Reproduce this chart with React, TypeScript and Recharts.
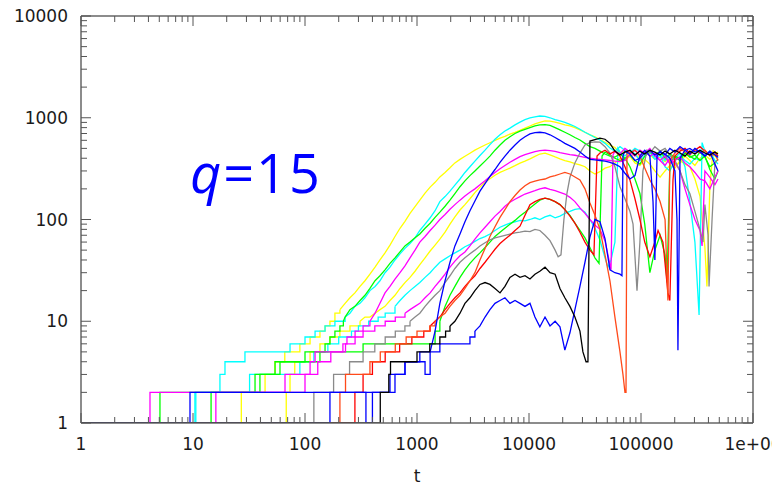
import React from "react";
import { LineChart, Line, XAxis, YAxis } from "recharts";

type Pt = [number, number];

// axis ticks
const X_MAJOR = [1, 10, 100, 1000, 10000, 100000, 1000000];
const X_LABELS = ["1", "10", "100", "1000", "10000", "100000", "1e+06"];
const Y_MAJOR = [1, 10, 100, 1000, 10000];
const Y_LABELS = ["1", "10", "100", "1000", "10000"];
const MINOR_STEPS = [2, 3, 4, 5, 6, 7, 8, 9];

// [t, value]; "Steps" = low integer part, "Curve" = the rest
const cyan1Steps: Pt[] = [[1,1],[10.4,2],[17.4,3],[19.3,4],[29.1,5],[73.5,6],[100,7],[123,8],[151,9],[185,10],[228,11]];
const cyan1Curve: Pt[] = [[228,11],[252,12],[279,14],[310,15],[343,17],[380,20],[422,22],[467,25],[518,30],[574,34],[636,40],[705,46],[781,52],[866,58],[960,66],[1060,78],[1180,90],[1310,104],[1450,122],[1600,150],[1780,168],[1970,190],[2180,218],[2420,250],[2680,290],[2970,330],[3290,375],[3650,425],[4050,480],[4480,545],[4970,615],[5510,680],[6100,740],[6760,790],[7500,850],[8310,905],[9210,960],[10200,995],[11300,1020],[12500,1040],[13900,1030],[15400,1000],[17100,960],[18900,930],[20900,900],[23200,860],[25700,820],[28500,770],[31600,720],[35000,680],[38800,640],[43000,605],[47700,560],[52800,505],[58500,470],[64900,520],[71900,480],[79700,450],[88300,500],[97800,470],[108000,430],[120000,460],[133000,410],[148000,440],[164000,380],[181000,420],[201000,400],[223000,450],[247000,330],[273000,150],[303000,60],[330000,11.5],[351000,570],[372000,470],[412000,430],[457000,450],[487000,400]];

const yellow1Steps: Pt[] = [[1,1],[27,2],[44,3],[54,4],[66,5],[90,6],[111,7],[136,8],[151,9],[167,10],[185,12],[205,13]];
const yellow1Curve: Pt[] = [[205,13],[228,15],[252,17],[279,19],[310,22],[343,25],[380,29],[422,34],[467,40],[518,47],[574,56],[636,68],[705,82],[781,96],[866,115],[960,134],[1060,155],[1180,182],[1310,208],[1450,232],[1600,262],[1780,290],[1970,322],[2180,360],[2420,390],[2680,418],[2970,448],[3290,480],[3650,510],[4050,540],[4480,568],[4970,600],[5510,630],[6100,655],[6760,690],[7500,718],[8310,750],[9210,790],[10200,830],[11300,870],[12500,900],[13900,930],[15400,925],[17100,905],[18900,880],[20900,850],[23200,830],[25700,800],[28500,760],[31600,720],[35000,680],[38800,650],[43000,610],[47700,575],[52800,540],[58500,510],[64900,450],[71900,470],[79700,420],[88300,440],[97800,400],[108000,460],[120000,430],[133000,390],[148000,410],[164000,370],[181000,400],[201000,340],[223000,360],[247000,420],[273000,380],[303000,340],[336000,400],[372000,430],[412000,390],[457000,440],[487000,460]];

const green1Steps: Pt[] = [[1,1],[5.07,2],[39.6,3],[54,4],[136,5],[151,6],[167,7],[185,8],[205,9],[220,10]];
const green1Curve: Pt[] = [[220,10],[228,11],[252,13],[279,14],[310,16],[343,18],[380,21],[422,25],[467,28],[518,32],[574,37],[636,42],[705,48],[781,55],[866,60],[960,66],[1060,72],[1180,82],[1310,92],[1450,105],[1600,118],[1780,135],[1970,155],[2180,180],[2420,210],[2680,240],[2970,270],[3290,300],[3650,335],[4050,375],[4480,420],[4970,480],[5510,540],[6100,600],[6760,650],[7500,700],[8310,740],[9210,770],[10200,800],[11300,830],[12500,850],[13900,855],[15400,840],[17100,800],[18900,760],[20900,720],[23200,680],[25700,640],[28500,605],[31600,560],[35000,520],[38800,500],[43000,470],[47700,440],[52800,420],[58500,410],[64900,440],[71900,400],[79700,430],[88300,380],[97800,350],[108000,420],[120000,460],[133000,430],[148000,470],[164000,400],[181000,440],[201000,410],[223000,380],[247000,450],[273000,420],[303000,390],[336000,460],[372000,410],[412000,330],[457000,360],[487000,390]];

const blue1Steps: Pt[] = [[1,1],[9.4,2],[574,3],[781,4],[1180,3],[1310,5]];
const blue1Curve: Pt[] = [[1310,5],[1450,8],[1600,15],[1780,25],[1970,38],[2180,55],[2420,72],[2680,95],[2970,122],[3290,152],[3650,190],[4050,225],[4480,265],[4970,310],[5510,365],[6100,420],[6760,480],[7500,540],[8310,600],[9210,650],[10200,695],[11300,715],[12500,720],[13900,710],[15400,680],[17100,640],[18900,600],[20900,560],[23200,530],[25700,500],[28500,460],[31600,420],[35000,390],[38800,385],[43000,380],[47700,375],[52800,365],[58500,350],[64900,330],[71900,285],[79700,250],[88300,270],[97800,420],[108000,480],[120000,420],[128000,150],[133000,40],[139000,420],[148000,470],[164000,430],[181000,500],[201000,460],[223000,520],[247000,480],[273000,440],[303000,500],[336000,460],[372000,420],[412000,470],[457000,430],[487000,410]];

const magenta1Steps: Pt[] = [[1,1],[4.13,2],[66.3,3],[111,4],[123,5],[218,6],[237,7],[280,8],[330,9],[380,10]];
const magenta1Curve: Pt[] = [[380,10],[422,12],[467,15],[518,19],[574,22],[636,26],[705,30],[781,35],[866,42],[960,50],[1060,60],[1180,68],[1310,78],[1450,88],[1600,100],[1780,112],[1970,126],[2180,140],[2420,155],[2680,170],[2970,185],[3290,200],[3650,220],[4050,240],[4480,265],[4970,290],[5510,315],[6100,340],[6760,365],[7500,390],[8310,415],[9210,435],[10200,450],[11300,465],[12500,475],[13900,480],[15400,475],[17100,468],[18900,455],[20900,445],[23200,435],[25700,428],[28500,418],[31600,408],[35000,400],[38800,395],[43000,390],[47700,385],[52800,380],[58500,375],[64900,370],[71900,380],[79700,440],[88300,480],[97800,430],[108000,470],[120000,420],[133000,450],[148000,380],[164000,340],[181000,400],[201000,360],[223000,300],[247000,200],[273000,140],[303000,100],[336000,78],[351000,55],[372000,300],[412000,260],[457000,220],[487000,250]];

const yellow2Steps: Pt[] = [[1,1],[68,2],[73.5,3],[81,4],[111,5],[136,6],[167,7],[205,8],[252,9],[310,10]];
const yellow2Curve: Pt[] = [[310,10],[343,11],[380,11],[422,12],[467,13],[518,14],[574,16],[636,18],[705,21],[781,24],[866,27],[960,31],[1060,36],[1180,42],[1310,49],[1450,56],[1600,64],[1780,75],[1970,90],[2180,106],[2420,124],[2680,140],[2970,160],[3290,184],[3650,208],[4050,232],[4480,252],[4970,272],[5510,290],[6100,305],[6760,320],[7500,338],[8310,358],[9210,375],[10200,395],[11300,418],[12500,440],[13900,448],[15400,432],[17100,412],[18900,395],[20900,380],[23200,368],[25700,355],[28500,345],[31600,330],[35000,300],[38800,280],[43000,295],[47700,320],[52800,330],[58500,360],[64900,400],[71900,380],[79700,420],[88300,360],[97800,340],[108000,390],[120000,350],[133000,300],[148000,260],[164000,300],[181000,340],[201000,320],[223000,380],[247000,350],[273000,330],[303000,250],[336000,170],[372000,53],[388000,22],[412000,210],[440000,480],[457000,420],[487000,400]];

const red1Steps: Pt[] = [[1,1],[205,2],[230,3],[380,4],[470,5],[640,6],[800,7],[1000,8],[1300,9],[1450,10]];
const red1Curve: Pt[] = [[1450,10],[1600,11],[1780,12],[1970,14],[2180,16],[2420,18],[2680,21],[2970,25],[3290,30],[3650,40],[4050,52],[4480,68],[4970,85],[5510,105],[6100,125],[6760,150],[7500,172],[8310,195],[9210,215],[10200,230],[11300,238],[12500,245],[13900,250],[15400,262],[17100,270],[18900,280],[20900,290],[23200,280],[25700,262],[28500,245],[31600,200],[35000,145],[38800,110],[43000,80],[47700,45],[52800,25],[58500,11],[64900,5],[69000,3],[71900,2],[73500,2],[75000,470],[79700,450],[88300,480],[97800,420],[108000,320],[120000,244],[133000,200],[148000,150],[164000,100],[174000,16],[181000,380],[201000,450],[223000,500],[247000,460],[273000,430],[303000,490],[336000,450],[372000,480],[412000,420],[457000,440],[487000,380]];

const magenta2Steps: Pt[] = [[1,1],[16,2],[100,3],[130,4],[170,5],[230,6],[280,7],[330,8],[420,9],[520,10],[640,11],[781,12]];
const magenta2Curve: Pt[] = [[781,12],[866,13],[960,14],[1060,15],[1180,17],[1310,19],[1450,22],[1600,25],[1780,29],[1970,34],[2180,39],[2420,44],[2680,48],[2970,55],[3290,64],[3650,74],[4050,84],[4480,95],[4970,108],[5510,120],[6100,135],[6760,148],[7500,158],[8310,168],[9210,178],[10200,185],[11300,192],[12500,200],[13900,205],[15400,198],[17100,192],[18900,185],[20900,178],[23200,165],[25700,150],[28500,130],[31600,115],[35000,100],[38800,88],[43000,80],[47700,62],[50700,45],[54000,32],[56200,430],[58500,470],[64900,440],[71900,500],[79700,460],[88300,420],[97800,480],[108000,450],[120000,500],[133000,420],[148000,380],[164000,420],[181000,350],[201000,380],[223000,410],[247000,360],[273000,330],[303000,290],[336000,250],[372000,240],[412000,200],[457000,260],[487000,300]];

const green2Steps: Pt[] = [[1,1],[14.5,2],[35.8,3],[59.8,4],[100,5],[330,6],[1450,8],[1600,10]];
const green2Curve: Pt[] = [[1600,10],[1780,14],[1970,18],[2180,22],[2420,27],[2680,32],[2970,37],[3290,42],[3650,47],[4050,53],[4480,60],[4970,68],[5510,75],[6100,82],[6760,90],[7500,98],[8310,108],[9210,118],[10200,130],[11300,142],[12500,155],[13900,162],[15400,158],[17100,150],[18900,140],[20900,125],[23200,110],[25700,92],[28500,78],[31600,66],[35000,53],[38800,42],[42200,37],[44900,420],[47700,460],[52800,430],[58500,400],[64900,380],[71900,400],[79700,330],[88300,250],[97800,180],[108000,90],[120000,30],[133000,50],[148000,70],[164000,45],[171000,24],[181000,350],[201000,420],[223000,400],[247000,450],[273000,410],[303000,430],[336000,380],[372000,420],[412000,310],[457000,250],[487000,300]];

const red2Steps: Pt[] = [[1,1],[279,2],[330,3],[400,4],[520,5],[700,6],[900,7],[1150,8],[1310,9]];
const red2Curve: Pt[] = [[1310,9],[1450,10],[1600,11],[1780,13],[1970,15],[2180,17],[2420,19],[2680,22],[2970,25],[3290,28],[3650,33],[4050,38],[4480,44],[4970,51],[5510,58],[6100,64],[6760,70],[7500,78],[8310,86],[9210,110],[10200,140],[11300,150],[12500,158],[13900,162],[15400,158],[17100,150],[18900,140],[20900,125],[23200,108],[25700,92],[28500,75],[31600,60],[35000,50],[38000,45],[40500,420],[43000,450],[47700,480],[52800,440],[58500,470],[64900,420],[71900,330],[79700,244],[88300,160],[97800,100],[108000,60],[120000,43],[133000,60],[142000,78],[157000,60],[174000,19],[181000,16],[193000,244],[201000,420],[223000,470],[247000,500],[273000,450],[303000,480],[336000,520],[372000,470],[412000,430],[457000,460],[487000,420]];

const cyan2Steps: Pt[] = [[1,1],[10.6,2],[32,3],[90,4],[120,5],[160,6],[200,7],[260,8],[300,9],[370,10],[450,11],[520,12],[636,14]];
const cyan2Curve: Pt[] = [[636,14],[705,16],[781,18],[866,20],[960,22],[1060,24],[1180,27],[1310,30],[1450,34],[1600,38],[1780,41],[1970,44],[2180,47],[2420,50],[2680,54],[2970,57],[3290,61],[3650,65],[4050,68],[4480,72],[4970,78],[5510,84],[6100,88],[6760,92],[7500,95],[8310,98],[9210,97],[10200,100],[11300,104],[12500,100],[13900,106],[15400,110],[17100,104],[18900,108],[20900,115],[23200,120],[25700,126],[28500,128],[31600,118],[35000,100],[38800,82],[43000,63],[47700,42],[50700,34],[54000,40],[58500,60],[62300,500],[64900,460],[71900,420],[79700,480],[88300,440],[97800,380],[108000,420],[120000,460],[133000,390],[148000,430],[164000,330],[181000,300],[201000,380],[223000,420],[247000,380],[273000,350],[303000,400],[336000,380],[372000,440],[412000,470],[457000,380],[487000,350]];

const gray1Steps: Pt[] = [[1,1],[120,2],[180,3],[250,4],[330,5],[420,6],[520,7],[640,8],[780,9],[866,10]];
const gray1Curve: Pt[] = [[866,10],[960,11],[1060,12],[1180,14],[1310,16],[1450,18],[1600,20],[1780,24],[1970,28],[2180,33],[2420,38],[2680,42],[2970,46],[3290,50],[3650,55],[4050,59],[4480,63],[4970,66],[5510,68],[6100,70],[6760,72],[7500,74],[8310,75],[9210,77],[10200,76],[11300,80],[12500,78],[13900,70],[15400,62],[17100,50],[18200,43],[19300,45],[20500,100],[21800,180],[23200,260],[25700,360],[28500,450],[31600,540],[35000,570],[38800,580],[43000,575],[47700,520],[52800,450],[58500,330],[64900,210],[71900,160],[79700,120],[84900,90],[92100,20],[97800,60],[104000,300],[113000,480],[120000,450],[133000,520],[148000,470],[164000,500],[181000,430],[201000,380],[223000,300],[247000,220],[273000,180],[303000,120],[336000,80],[358000,60],[372000,140],[397000,70],[405000,22],[431000,100],[457000,360],[487000,390]];

const black1Steps: Pt[] = [[1,1],[470,2],[560,3],[580,4],[1000,5],[1300,6],[1600,7],[1800,8],[1970,9]];
const black1Curve: Pt[] = [[1970,9],[2180,10],[2420,12],[2680,15],[2970,17],[3290,20],[3650,23],[4050,24],[4480,23],[4970,21],[5510,19],[6100,22],[6760,27],[7500,29],[8310,27],[9210,28],[10200,26],[11300,29],[12500,31],[13900,34],[15400,30],[17100,29],[18900,21],[20900,17],[23200,14],[25700,11],[28500,8],[30300,5],[32300,4],[33600,4],[35000,590],[38800,610],[43000,630],[47700,615],[52800,560],[58500,470],[64900,430],[71900,460],[79700,480],[88300,430],[97800,470],[108000,440],[120000,480],[133000,460],[148000,430],[164000,470],[181000,440],[201000,480],[223000,450],[247000,420],[273000,470],[303000,440],[336000,480],[372000,450],[412000,430],[457000,460],[487000,440]];

const blue2Steps: Pt[] = [[1,1],[167,2],[350,1],[400,2],[636,3],[781,4],[1060,5],[1600,6],[2970,7],[3290,8]];
const blue2Curve: Pt[] = [[3290,8],[3650,9],[4050,11],[4480,13],[4970,15],[5510,16],[6100,17],[6760,15],[7500,16],[8310,15],[9210,14],[10200,15],[11300,11],[12500,8.8],[13900,11],[15400,9],[17100,10],[18900,8.8],[20900,5.2],[23200,7.7],[25700,13],[28500,22],[31600,38],[35000,67],[38800,100],[43000,95],[47700,65],[52800,32],[58500,30],[64900,29],[67600,28],[69000,420],[71900,470],[79700,440],[88300,380],[97800,400],[108000,450],[120000,480],[133000,430],[148000,460],[164000,440],[181000,400],[201000,300],[209600,100],[213700,5.2],[223000,400],[247000,480],[273000,500],[303000,460],[336000,480],[372000,420],[412000,460],[457000,350],[487000,300]];

const SERIES = [
  { id: "yellow1", color: "#ffff00", steps: yellow1Steps, curve: yellow1Curve },
  { id: "yellow2", color: "#ffff00", steps: yellow2Steps, curve: yellow2Curve },
  { id: "cyan1", color: "#00ffff", steps: cyan1Steps, curve: cyan1Curve },
  { id: "cyan2", color: "#00ffff", steps: cyan2Steps, curve: cyan2Curve },
  { id: "green1", color: "#00ff00", steps: green1Steps, curve: green1Curve },
  { id: "green2", color: "#00ff00", steps: green2Steps, curve: green2Curve },
  { id: "magenta1", color: "#ff00ff", steps: magenta1Steps, curve: magenta1Curve },
  { id: "magenta2", color: "#ff00ff", steps: magenta2Steps, curve: magenta2Curve },
  { id: "gray1", color: "#8a8a8a", steps: gray1Steps, curve: gray1Curve },
  { id: "red2", color: "#ff0000", steps: red2Steps, curve: red2Curve },
  { id: "red1", color: "#ff4a1a", steps: red1Steps, curve: red1Curve },
  { id: "blue1", color: "#0000ff", steps: blue1Steps, curve: blue1Curve },
  { id: "blue2", color: "#0000ff", steps: blue2Steps, curve: blue2Curve },
  { id: "black1", color: "#000000", steps: black1Steps, curve: black1Curve },
];

const withMinors = (majors: number[]) => [
  ...majors,
  ...majors.slice(0, -1).flatMap((m) => MINOR_STEPS.map((k) => m * k)),
];
const xTicks = withMinors(X_MAJOR);
const yTicks = withMinors(Y_MAJOR);

const toPts = (a: Pt[]) => a.map(([t, v]) => ({ t, v }));

const FONT = "'DejaVu Sans', Verdana, sans-serif";
const TICK = "#555";

const BottomTick = (props: any) => {
  const { x, y, payload } = props;
  const i = X_MAJOR.indexOf(payload.value);
  return (
    <g>
      <line x1={x} x2={x} y1={y} y2={y - (i >= 0 ? 10 : 6)} stroke={TICK} />
      {i >= 0 && (
        <text x={x} y={y + 27} textAnchor="middle" fontSize={17} fontFamily={FONT} fill="#1a1a1a">
          {X_LABELS[i]}
        </text>
      )}
    </g>
  );
};

const TopTick = (props: any) => {
  const { x, y, payload } = props;
  const major = X_MAJOR.includes(payload.value);
  return <line x1={x} x2={x} y1={y} y2={y + (major ? 10 : 6)} stroke={TICK} />;
};

const LeftTick = (props: any) => {
  const { x, y, payload } = props;
  const i = Y_MAJOR.indexOf(payload.value);
  return (
    <g>
      <line x1={x} x2={x + (i >= 0 ? 10 : 6)} y1={y} y2={y} stroke={TICK} />
      {i >= 0 && (
        <text x={x - 13} y={y + 6} textAnchor="end" fontSize={17} fontFamily={FONT} fill="#1a1a1a">
          {Y_LABELS[i]}
        </text>
      )}
    </g>
  );
};

const RightTick = (props: any) => {
  const { x, y, payload } = props;
  const major = Y_MAJOR.includes(payload.value);
  return <line x1={x} x2={x - (major ? 10 : 6)} y1={y} y2={y} stroke={TICK} />;
};

const frame = { stroke: "#666", strokeWidth: 1.5 };

export default function App() {
  return (
    <div style={{ position: "relative", width: 772, height: 488, overflow: "hidden", background: "#fff" }}>
      <style>{"body{margin:0}"}</style>
      <LineChart width={772} height={488} margin={{ top: 15, right: 18, bottom: 0, left: 0 }}>
        <XAxis
          dataKey="t"
          type="number"
          scale="log"
          domain={[1, 1000000]}
          allowDataOverflow
          ticks={xTicks}
          interval={0}
          tick={BottomTick}
          tickLine={false}
          tickSize={0}
          tickMargin={0}
          axisLine={frame}
          height={65}
          label={{ value: "t", position: "insideBottom", offset: 6, fontSize: 17, fontFamily: FONT, fill: "#1a1a1a" }}
        />
        <XAxis
          xAxisId="top"
          orientation="top"
          dataKey="t"
          type="number"
          scale="log"
          domain={[1, 1000000]}
          allowDataOverflow
          ticks={xTicks}
          interval={0}
          tick={TopTick}
          tickLine={false}
          tickSize={0}
          tickMargin={0}
          axisLine={frame}
          height={1}
        />
        <YAxis
          type="number"
          scale="log"
          domain={[1, 10000]}
          allowDataOverflow
          ticks={yTicks}
          interval={0}
          tick={LeftTick}
          tickLine={false}
          tickSize={0}
          tickMargin={0}
          axisLine={frame}
          width={81}
        />
        <YAxis
          yAxisId="right"
          orientation="right"
          type="number"
          scale="log"
          domain={[1, 10000]}
          allowDataOverflow
          ticks={yTicks}
          interval={0}
          tick={RightTick}
          tickLine={false}
          tickSize={0}
          tickMargin={0}
          axisLine={frame}
          width={1}
        />
        {/* invisible copy bound to the mirror axes so they get drawn */}
        <Line
          xAxisId="top"
          yAxisId="right"
          data={toPts(black1Curve)}
          dataKey="v"
          stroke="none"
          dot={false}
          activeDot={false}
          isAnimationActive={false}
        />
        {SERIES.flatMap((s) => [
          <Line
            key={s.id + "-s"}
            data={toPts(s.steps)}
            dataKey="v"
            type="stepAfter"
            stroke={s.color}
            strokeWidth={1.3}
            dot={false}
            activeDot={false}
            isAnimationActive={false}
          />,
          <Line
            key={s.id + "-c"}
            data={toPts(s.curve)}
            dataKey="v"
            type="linear"
            stroke={s.color}
            strokeWidth={1.3}
            dot={false}
            activeDot={false}
            isAnimationActive={false}
          />,
        ])}
      </LineChart>
      <svg width={772} height={488} style={{ position: "absolute", left: 0, top: 0, pointerEvents: "none" }}>
        <text x={190} y={193} fill="#0000ff" fontSize={54} letterSpacing={2} fontFamily="'Open Sans', Lato, sans-serif">
          <tspan fontStyle="italic">q</tspan>=15
        </text>
      </svg>
    </div>
  );
}
